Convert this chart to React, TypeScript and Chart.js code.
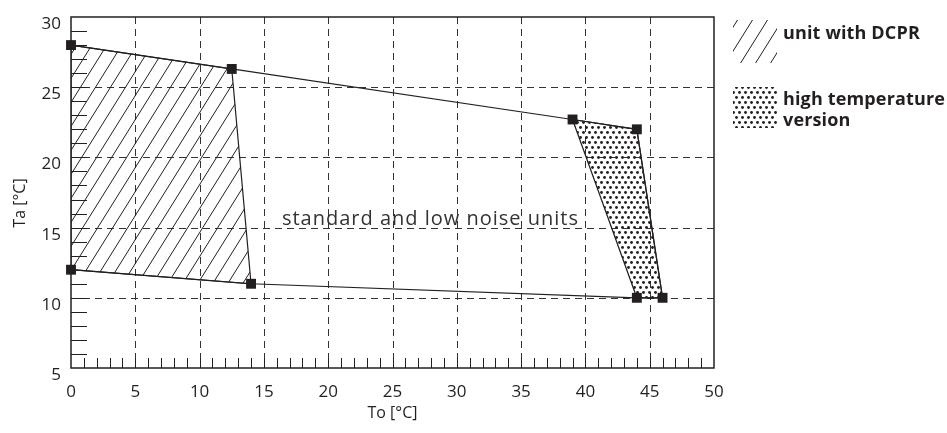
import React, { useEffect, useRef } from 'react';
import { Chart, registerables } from 'chart.js';

Chart.register(...registerables);

// ---- data ----
const xTickValues = [0, 5, 10, 15, 20, 25, 30, 35, 40, 45, 50];
const xTickLabels = ['0', '5', '10', '15', '20', '25', '30', '35', '40', '45', '50'];
const yTickValues = [5, 10, 15, 20, 25, 30];
const yTickLabels = ['5', '10', '15', '20', '25', '30'];
const xGridValues = [5, 10, 15, 20, 25, 30, 35, 40, 45];
const yGridValues = [10, 15, 20, 25];

// envelope of the standard / low noise units (corner markers)
const envelopeTo = [0, 12.5, 39, 44, 46, 44, 14, 0];
const envelopeTa = [28, 26.3, 22.7, 22, 10, 10, 11, 12];
// unit with DCPR (hatched)
const dcprTo = [0, 12.5, 14, 0, 0];
const dcprTa = [28, 26.3, 11, 12, 28];
// high temperature version (dotted)
const highTempTo = [39, 44, 46, 44, 39];
const highTempTa = [22.7, 22, 10, 10, 22.7];

const xTitle = 'To [°C]';
const yTitle = 'Ta [°C]';
const areaLabel = 'standard and low noise units';
const areaLabelAt = { x: 16.4, y: 15.7 };
const legendLabels = ['unit with DCPR', ['high temperature', 'version']];

const INK = '#231f20';
const FONT = '"Open Sans", Lato, sans-serif';

function toPoints(xs: number[], ys: number[]) {
  return xs.map((x, i) => ({ x, y: ys[i] }));
}

function makeHatch(): CanvasPattern | string {
  const c = document.createElement('canvas');
  const w = 15;
  const h = 24;
  c.width = w;
  c.height = h;
  const g = c.getContext('2d');
  if (!g) return 'transparent';
  g.strokeStyle = INK;
  g.lineWidth = 1;
  for (let n = -1; n <= 1; n++) {
    g.beginPath();
    g.moveTo(n * w, h);
    g.lineTo((n + 1) * w, 0);
    g.stroke();
  }
  return g.createPattern(c, 'repeat') || 'transparent';
}

function makeDots(): CanvasPattern | string {
  const c = document.createElement('canvas');
  const w = 6;
  const h = 10;
  c.width = w;
  c.height = h;
  const g = c.getContext('2d');
  if (!g) return 'transparent';
  g.fillStyle = INK;
  const pts = [
    [1.5, 2.5],
    [4.5, 7.5],
  ];
  for (const [x, y] of pts) {
    g.beginPath();
    g.arc(x, y, 1.45, 0, Math.PI * 2);
    g.fill();
  }
  return g.createPattern(c, 'repeat') || 'transparent';
}

function setSpacing(ctx: any, v: string) {
  if ('letterSpacing' in ctx) ctx.letterSpacing = v;
}

export default function App() {
  const ref = useRef<HTMLCanvasElement | null>(null);

  useEffect(() => {
    const canvas = ref.current;
    if (!canvas) return;
    const hatch = makeHatch();
    const dots = makeDots();

    const axesPlugin = {
      id: 'axesPlugin',
      beforeDatasetsDraw(chart: any) {
        const { ctx, chartArea: a, scales } = chart;
        const xs = scales.x;
        const ys = scales.y;
        ctx.save();
        // dashed grid
        ctx.strokeStyle = '#333333';
        ctx.lineWidth = 1;
        ctx.setLineDash([7, 5]);
        for (const v of xGridValues) {
          const px = Math.round(xs.getPixelForValue(v)) + 0.5;
          ctx.beginPath();
          ctx.moveTo(px, a.top);
          ctx.lineTo(px, a.bottom);
          ctx.stroke();
        }
        for (const v of yGridValues) {
          const py = Math.round(ys.getPixelForValue(v)) + 0.5;
          ctx.beginPath();
          ctx.moveTo(a.left, py);
          ctx.lineTo(a.right, py);
          ctx.stroke();
        }
        ctx.setLineDash([]);
        // minor ticks
        ctx.strokeStyle = INK;
        ctx.lineWidth = 1;
        for (let v = ys.min + 1; v < ys.max; v++) {
          const py = Math.round(ys.getPixelForValue(v)) + 0.5;
          ctx.beginPath();
          ctx.moveTo(a.left, py);
          ctx.lineTo(a.left + 16, py);
          ctx.stroke();
        }
        for (let v = xs.min + 1; v < xs.max; v++) {
          const px = Math.round(xs.getPixelForValue(v)) + 0.5;
          ctx.beginPath();
          ctx.moveTo(px, a.bottom);
          ctx.lineTo(px, a.bottom - 10);
          ctx.stroke();
        }
        // frame
        ctx.lineWidth = 1.5;
        ctx.strokeRect(a.left, a.top, a.right - a.left, a.bottom - a.top);

        // tick labels
        ctx.fillStyle = INK;
        ctx.font = `17px ${FONT}`;
        ctx.textAlign = 'center';
        ctx.textBaseline = 'alphabetic';
        xTickValues.forEach((v, i) => {
          ctx.fillText(xTickLabels[i], xs.getPixelForValue(v), a.bottom + 29);
        });
        ctx.textAlign = 'right';
        yTickValues.forEach((v, i) => {
          ctx.fillText(yTickLabels[i], a.left - 10, ys.getPixelForValue(v) + 12);
        });
        // titles
        ctx.font = `16px ${FONT}`;
        ctx.textAlign = 'center';
        ctx.textBaseline = 'middle';
        ctx.fillText(xTitle, (a.left + a.right) / 2, 413);
        ctx.save();
        ctx.translate(20, 203);
        ctx.rotate(-Math.PI / 2);
        ctx.fillText(yTitle, 0, 0);
        ctx.restore();
        ctx.restore();
      },
      afterDraw(chart: any) {
        const { ctx, scales } = chart;
        ctx.save();
        // area label
        ctx.fillStyle = '#333333';
        ctx.font = `20px ${FONT}`;
        setSpacing(ctx, '1px');
        ctx.textAlign = 'left';
        ctx.textBaseline = 'alphabetic';
        ctx.fillText(
          areaLabel,
          scales.x.getPixelForValue(areaLabelAt.x),
          scales.y.getPixelForValue(areaLabelAt.y) + 7
        );
        // legend
        ctx.fillStyle = hatch as any;
        ctx.fillRect(733, 20, 44, 43);
        ctx.fillStyle = dots as any;
        ctx.fillRect(733, 87, 44, 41);
        ctx.fillStyle = INK;
        ctx.font = `bold 18px ${FONT}`;
        setSpacing(ctx, '0.15px');
        ctx.fillText(legendLabels[0] as string, 783, 39);
        const l2 = legendLabels[1] as string[];
        ctx.fillText(l2[0], 783, 105);
        ctx.fillText(l2[1], 783, 126);
        ctx.restore();
      },
    };

    const chart = new Chart(canvas, {
      type: 'scatter',
      data: {
        datasets: [
          {
            label: 'standard and low noise units',
            data: toPoints(envelopeTo, envelopeTa),
            showLine: true,
            borderColor: INK,
            borderWidth: 1.2,
            pointStyle: 'rect',
            pointRadius: 7,
            pointBackgroundColor: INK,
            pointBorderColor: INK,
            pointBorderWidth: 0,
            fill: false,
            clip: false,
          } as any,
          {
            label: 'unit with DCPR',
            data: toPoints(dcprTo, dcprTa),
            showLine: true,
            borderColor: INK,
            borderWidth: 1.2,
            pointRadius: 0,
            backgroundColor: hatch,
            fill: 'shape',
          } as any,
          {
            label: 'high temperature version',
            data: toPoints(highTempTo, highTempTa),
            showLine: true,
            borderColor: INK,
            borderWidth: 1.2,
            pointRadius: 0,
            backgroundColor: dots,
            fill: 'shape',
          } as any,
        ],
      },
      options: {
        animation: false,
        responsive: false,
        events: [],
        layout: { padding: { left: 71, top: 17, right: 233, bottom: 65 } },
        plugins: {
          legend: { display: false },
          tooltip: { enabled: false },
        },
        elements: { line: { tension: 0 } },
        scales: {
          x: { type: 'linear', min: 0, max: 50, display: false },
          y: { type: 'linear', min: 5, max: 30, display: false },
        },
      },
      plugins: [axesPlugin],
    });
    return () => chart.destroy();
  }, []);

  return (
    <div style={{ position: 'absolute', left: 0, top: 0, width: 947, height: 433, background: '#ffffff' }}>
      <canvas ref={ref} width={947} height={433} style={{ display: 'block', width: 947, height: 433 }} />
    </div>
  );
}
